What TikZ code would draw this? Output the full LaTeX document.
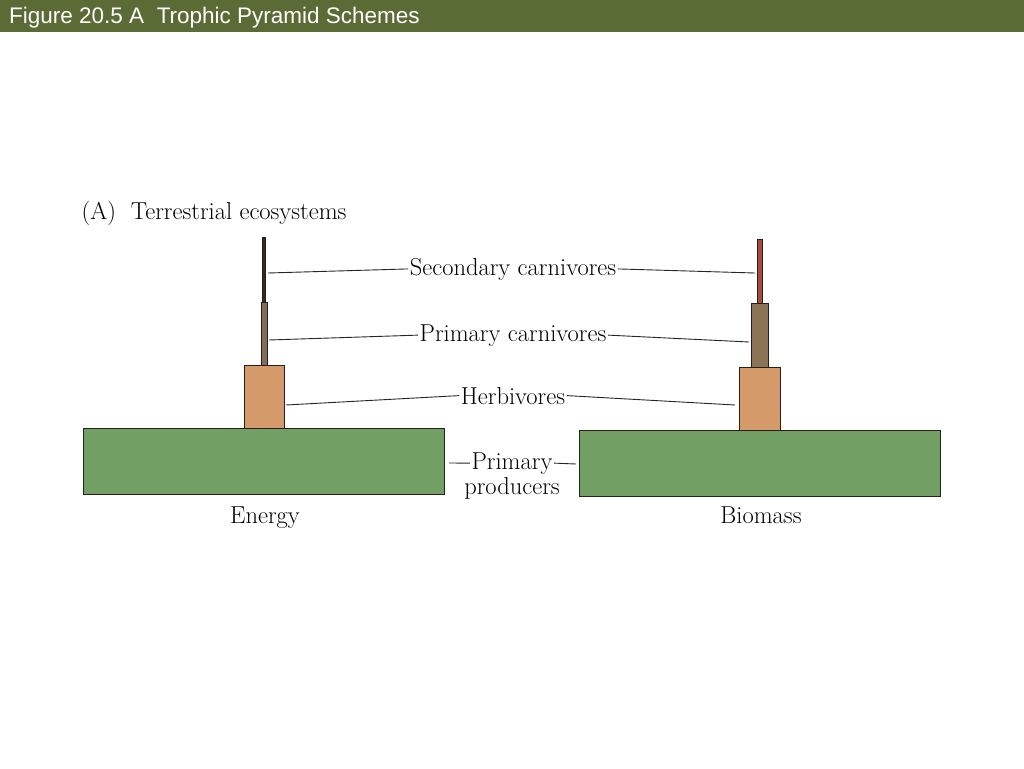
\documentclass[tikz,border=0pt]{standalone}
\usepackage{fontspec}
\setsansfont{Liberation Sans}
\definecolor{header}{RGB}{90,107,53}
\definecolor{prodgreen}{RGB}{114,160,100}
\definecolor{herb}{RGB}{213,154,106}
\definecolor{pcarnL}{RGB}{128,110,90}
\definecolor{pcarnR}{RGB}{139,115,85}
\definecolor{scarnL}{RGB}{55,38,38}
\definecolor{scarnR}{RGB}{170,72,60}
\definecolor{edge}{RGB}{40,30,25}
\tikzset{
  bar/.style={draw=edge, line width=0.9pt, inner sep=0pt, outer sep=0pt},
  lbl/.style={font=\fontsize{24.5}{26}\selectfont, inner sep=1.5pt, text=black, anchor=base},
  leader/.style={draw=black!85, line width=0.9pt},
}
\begin{document}
\begin{tikzpicture}[x=1pt,y=-1pt]
\useasboundingbox (0,0) rectangle (1024,768);
\fill[white] (0,0) rectangle (1024,768);
\fill[header] (0,0) rectangle (1024,32);
\node[anchor=west, text=white, font=\sffamily\fontsize{22.5}{26}\selectfont, inner sep=0pt] (title) at (9,18) {Figure 20.5 A\ \ Trophic Pyramid Schemes};

% left pyramid (Energy)
\node[bar, fill=prodgreen, minimum width=361pt, minimum height=66pt] (lp) at (263.5,461) {};
\node[bar, fill=herb, minimum width=40pt, minimum height=63pt] (lh) at (264,396.5) {};
\node[bar, fill=pcarnL, minimum width=6pt, minimum height=63pt] (lpc) at (264,333.5) {};
\node[bar, fill=scarnL, minimum width=3pt, minimum height=65pt] (lsc) at (263.5,269.5) {};

% right pyramid (Biomass)
\node[bar, fill=prodgreen, minimum width=361pt, minimum height=66pt] (rp) at (759.5,463) {};
\node[bar, fill=herb, minimum width=41pt, minimum height=63pt] (rh) at (759.5,398.5) {};
\node[bar, fill=pcarnR, minimum width=17pt, minimum height=64pt] (rpc) at (759.5,335) {};
\node[bar, fill=scarnR, minimum width=5pt, minimum height=64pt] (rsc) at (759.5,271) {};

% labels
\node[lbl, anchor=base west] (title2) at (80,219) {(A)\ \ Terrestrial ecosystems};
\node[lbl] (sc) at (513,275) {Secondary carnivores};
\node[lbl] (pc) at (513,341) {Primary carnivores};
\node[lbl] (hb) at (513,404) {Herbivores};
\node[lbl] (ppa) at (512,469) {Primary};
\node[lbl] (ppb) at (512,494) {producers};
\node[lbl] (en) at (265,523) {Energy};
\node[lbl] (bm) at (761,523) {Biomass};

% leader end points on the bars
\coordinate (a1) at (268,273);
\coordinate (a2) at (755,273);
\coordinate (b1) at (269,340);
\coordinate (b2) at (749,342);
\coordinate (c1) at (286,405);
\coordinate (c2) at (735,405);
\coordinate (d1) at (449,463);
\coordinate (d2) at (576,464);

\draw[leader] (a1) -- (sc.west);
\draw[leader] (sc.east) -- (a2);
\draw[leader] (b1) -- (pc.west);
\draw[leader] (pc.east) -- (b2);
\draw[leader] (c1) -- (hb.west);
\draw[leader] (hb.east) -- (c2);
\draw[leader] (d1) -- (ppa.west);
\draw[leader] (ppa.east) -- (d2);
\end{tikzpicture}
\end{document}
